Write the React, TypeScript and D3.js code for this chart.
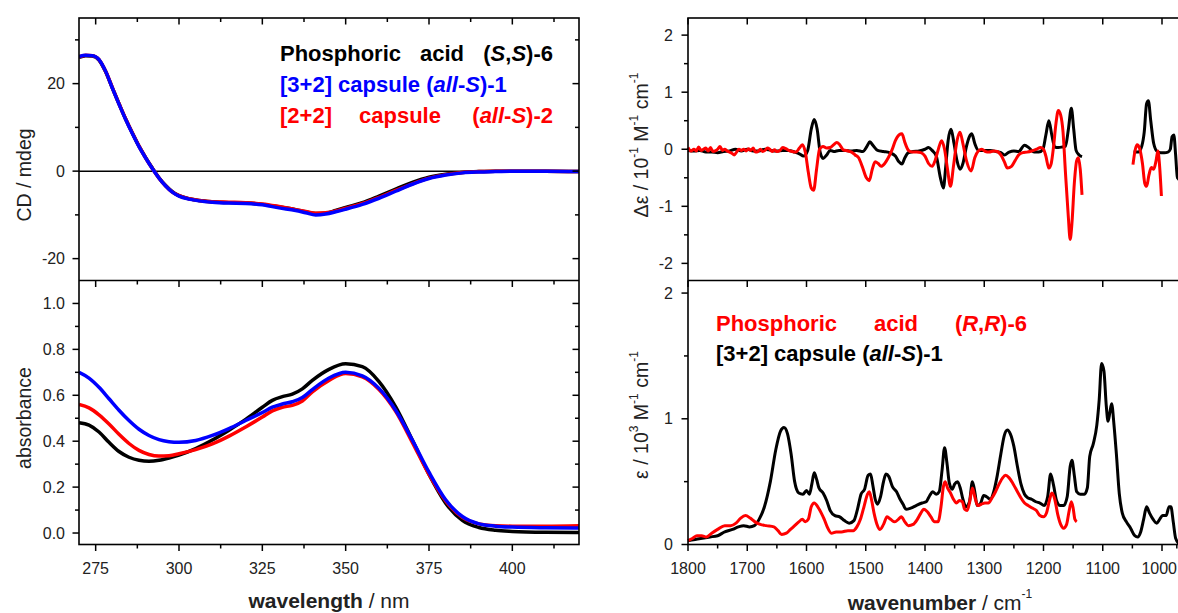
import React from "react";
import * as d3 from "d3";

// ---------- DATA ----------
// Left panels (UV/CD), wavelength in nm
const cdWl = [270,272,274,276,278,280,282,284,286,288,290,292,294,296,298,300,303,306,310,315,320,325,330,335,338,341,344,347,350,355,360,365,370,375,380,385,390,395,400,410,420];
const cdBlack = [26.0,26.4,26.3,25.4,22.7,19.0,15.4,11.9,8.7,5.7,3.1,0.7,-1.5,-3.3,-4.7,-5.6,-6.3,-6.7,-7.0,-7.2,-7.3,-7.6,-8.2,-8.8,-9.3,-9.7,-9.6,-9.0,-8.3,-7.2,-5.7,-4.1,-2.6,-1.4,-0.7,-0.3,-0.1,0.0,0.0,0.0,-0.1];
const cdRed = [26.1,26.5,26.4,25.5,22.8,19.1,15.4,11.9,8.7,5.7,3.0,0.6,-1.6,-3.4,-4.8,-5.6,-6.3,-6.7,-7.0,-7.1,-7.2,-7.5,-8.1,-8.8,-9.2,-9.6,-9.5,-9.1,-8.5,-7.4,-6.0,-4.4,-2.9,-1.6,-0.8,-0.3,-0.1,0.0,0.0,0.0,-0.1];
const cdBlue = [26.2,26.5,26.4,25.5,22.8,19.0,15.3,11.8,8.6,5.6,3.0,0.6,-1.6,-3.4,-4.8,-5.7,-6.4,-6.8,-7.1,-7.3,-7.4,-7.7,-8.4,-9.0,-9.5,-10.0,-9.8,-9.3,-8.7,-7.6,-6.2,-4.6,-3.0,-1.7,-0.9,-0.4,-0.2,-0.1,0.0,0.0,-0.1];

const absWl = [270,273,276,279,282,285,288,291,294,297,300,305,310,315,320,325,328,331,334,337,340,345,350,355,360,365,370,375,380,385,390,395,400,410,420];
const absBlack = [0.48,0.47,0.44,0.395,0.355,0.33,0.317,0.313,0.317,0.327,0.34,0.368,0.405,0.448,0.495,0.548,0.578,0.594,0.605,0.628,0.665,0.713,0.737,0.725,0.66,0.55,0.405,0.255,0.13,0.055,0.024,0.012,0.007,0.003,0.002];
const absRed = [0.56,0.545,0.515,0.475,0.43,0.39,0.36,0.342,0.335,0.337,0.345,0.363,0.388,0.422,0.462,0.505,0.532,0.548,0.556,0.575,0.615,0.665,0.695,0.68,0.625,0.53,0.395,0.255,0.14,0.068,0.04,0.032,0.03,0.03,0.032];
const absBlue = [0.70,0.675,0.635,0.585,0.535,0.49,0.452,0.425,0.407,0.398,0.395,0.403,0.425,0.455,0.49,0.525,0.548,0.562,0.572,0.59,0.625,0.675,0.70,0.685,0.63,0.535,0.405,0.265,0.145,0.072,0.04,0.03,0.026,0.023,0.022];

// Right top panel (VCD), [wavenumber, Δε / 10^-1]
const vcdBlackA = [[1800,-0.02],[1790,-0.03],[1780,-0.02],[1770,-0.05],[1760,-0.05],[1750,-0.06],[1740,-0.04],[1730,-0.03],[1720,0.0],[1710,-0.03],[1700,0.0],[1690,-0.03],[1680,-0.03],[1670,0.0],[1660,-0.02],[1650,-0.03],[1640,-0.02],[1630,-0.02],[1620,-0.05],[1612,-0.08],[1605,-0.12],[1598,-0.02],[1592,0.35],[1587,0.52],[1582,0.35],[1577,-0.05],[1572,-0.16],[1566,-0.1],[1560,-0.02],[1554,-0.04],[1545,-0.02],[1535,-0.02],[1525,-0.03],[1515,-0.02],[1505,-0.04],[1498,0.05],[1493,0.13],[1488,0.07],[1480,-0.02],[1470,-0.04],[1460,-0.06],[1450,-0.12],[1444,-0.22],[1439,-0.26],[1434,-0.15],[1428,-0.06],[1420,-0.04],[1410,-0.03],[1400,0.0],[1394,0.03],[1388,-0.02],[1381,-0.12],[1374,-0.5],[1369,-0.68],[1365,-0.3],[1361,0.15],[1356,0.35],[1351,0.1],[1346,-0.2],[1341,-0.35],[1336,-0.25],[1330,0.05],[1325,0.22],[1321,0.27],[1316,0.1],[1310,-0.02],[1300,-0.02],[1290,-0.02],[1280,-0.04],[1272,-0.06],[1266,-0.1],[1258,-0.05],[1250,-0.03],[1242,-0.04],[1232,0.07],[1224,0.02],[1216,-0.05],[1208,-0.05],[1201,0.0],[1196,0.25],[1191,0.5],[1186,0.25],[1181,0.04],[1175,0.03],[1168,0.04],[1163,0.05],[1158,0.35],[1153,0.72],[1149,0.35],[1145,-0.02],[1140,-0.1],[1135,-0.13]];
const vcdBlackB = [[1048,-0.05],[1040,-0.05],[1034,0.06],[1030,0.3],[1026,0.8],[1023,0.85],[1019,0.5],[1014,0.1],[1008,-0.04],[1002,-0.06],[996,-0.06],[990,-0.05],[986,0.0],[983,0.22],[980,0.25],[977,-0.1],[974,-0.5],[968,-0.55]];
const vcdRedA = [[1800,0.03],[1795,-0.03],[1790,0.0],[1786,-0.03],[1782,0.04],[1778,-0.02],[1774,0.0],[1770,0.02],[1766,-0.03],[1762,0.03],[1758,-0.04],[1754,-0.03],[1750,0.0],[1746,0.05],[1742,-0.02],[1738,0.0],[1734,-0.03],[1730,-0.05],[1726,-0.07],[1722,-0.1],[1718,-0.05],[1714,0.0],[1710,-0.02],[1706,0.0],[1702,-0.03],[1698,0.01],[1694,-0.02],[1690,0.02],[1686,-0.05],[1682,-0.04],[1678,0.0],[1674,-0.04],[1670,-0.02],[1666,0.02],[1662,0.0],[1658,-0.04],[1654,-0.01],[1650,-0.04],[1645,-0.02],[1640,0.03],[1635,0.01],[1630,-0.02],[1624,-0.04],[1618,-0.05],[1612,0.02],[1607,0.08],[1602,-0.05],[1597,-0.4],[1592,-0.68],[1588,-0.72],[1583,-0.35],[1578,0.0],[1572,0.05],[1566,0.02],[1560,0.03],[1554,0.08],[1549,0.12],[1544,0.08],[1538,-0.01],[1530,-0.03],[1524,-0.05],[1518,-0.1],[1512,-0.15],[1506,-0.3],[1499,-0.5],[1494,-0.55],[1489,-0.35],[1484,-0.22],[1479,-0.25],[1474,-0.3],[1468,-0.25],[1462,-0.15],[1456,-0.02],[1450,0.15],[1444,0.25],[1439,0.27],[1434,0.12],[1428,-0.02],[1422,-0.05],[1414,-0.05],[1407,-0.06],[1400,-0.12],[1394,-0.25],[1388,-0.3],[1383,-0.2],[1378,-0.02],[1372,0.15],[1367,0.0],[1362,-0.35],[1357,-0.65],[1352,-0.3],[1346,0.15],[1341,0.3],[1336,0.1],[1330,-0.2],[1322,-0.38],[1316,-0.15],[1310,-0.03],[1304,0.0],[1298,-0.04],[1292,-0.05],[1284,-0.03],[1278,-0.04],[1272,-0.1],[1266,-0.22],[1261,-0.33],[1254,-0.3],[1248,-0.2],[1242,-0.1],[1235,-0.06],[1228,-0.05],[1220,-0.03],[1212,0.0],[1205,0.03],[1200,0.0],[1196,-0.12],[1191,-0.33],[1187,-0.25],[1183,0.05],[1179,0.45],[1175,0.68],[1171,0.6],[1167,0.3],[1163,-0.4],[1158,-1.2],[1155,-1.58],[1152,-1.3],[1148,-0.6],[1144,-0.2],[1141,-0.15],[1138,-0.35],[1135,-0.8]];
const vcdRedB = [[1049,-0.27],[1045,0.0],[1042,0.08],[1038,0.02],[1033,-0.25],[1029,-0.6],[1026,-0.65],[1022,-0.45],[1018,-0.32],[1014,-0.35],[1010,-0.2],[1007,-0.03],[1004,-0.3],[1001,-0.82]];

// Right bottom panel (IR), [wavenumber, ε / 10^3]
const irBlack = [[1800,0.03],[1788,0.04],[1776,0.05],[1763,0.06],[1750,0.07],[1738,0.1],[1725,0.12],[1715,0.14],[1706,0.15],[1696,0.14],[1688,0.15],[1680,0.2],[1671,0.3],[1661,0.5],[1652,0.75],[1644,0.9],[1638,0.93],[1632,0.88],[1626,0.72],[1620,0.5],[1613,0.41],[1606,0.4],[1600,0.43],[1595,0.4],[1591,0.48],[1587,0.57],[1583,0.52],[1579,0.45],[1572,0.41],[1566,0.35],[1560,0.27],[1552,0.23],[1544,0.22],[1536,0.19],[1528,0.17],[1520,0.19],[1514,0.28],[1508,0.4],[1502,0.44],[1496,0.55],[1492,0.56],[1488,0.47],[1484,0.36],[1480,0.32],[1475,0.38],[1470,0.5],[1466,0.56],[1461,0.54],[1455,0.46],[1448,0.42],[1442,0.36],[1437,0.32],[1432,0.28],[1424,0.29],[1415,0.31],[1405,0.33],[1398,0.34],[1392,0.39],[1387,0.42],[1381,0.4],[1376,0.42],[1371,0.6],[1367,0.77],[1363,0.65],[1359,0.49],[1354,0.44],[1350,0.48],[1345,0.5],[1340,0.44],[1336,0.36],[1331,0.3],[1325,0.34],[1320,0.5],[1316,0.42],[1312,0.31],[1306,0.33],[1301,0.39],[1296,0.38],[1290,0.36],[1284,0.42],[1278,0.55],[1272,0.72],[1266,0.87],[1261,0.91],[1256,0.88],[1250,0.78],[1244,0.62],[1238,0.48],[1232,0.4],[1226,0.37],[1220,0.36],[1213,0.34],[1206,0.33],[1199,0.31],[1193,0.38],[1188,0.56],[1183,0.47],[1178,0.35],[1172,0.31],[1166,0.31],[1160,0.38],[1155,0.62],[1152,0.67],[1148,0.55],[1144,0.42],[1138,0.4],[1131,0.4],[1126,0.45],[1122,0.7],[1116,0.8],[1110,0.95],[1106,1.15],[1102,1.44],[1098,1.38],[1094,1.1],[1091,0.98],[1088,1.05],[1085,1.12],[1081,0.95],[1077,0.72],[1072,0.4],[1067,0.25],[1060,0.18],[1053,0.13],[1046,0.07],[1041,0.06],[1036,0.1],[1031,0.2],[1026,0.3],[1021,0.25],[1015,0.2],[1009,0.17],[1004,0.2],[999,0.23],[993,0.23],[988,0.3],[985,0.3],[981,0.18],[977,0.05],[970,0.0]];
const irRed = [[1800,0.03],[1792,0.05],[1785,0.07],[1777,0.07],[1769,0.06],[1760,0.09],[1750,0.12],[1738,0.15],[1728,0.15],[1719,0.17],[1711,0.21],[1703,0.23],[1695,0.21],[1687,0.18],[1678,0.16],[1668,0.15],[1655,0.14],[1648,0.11],[1642,0.08],[1634,0.09],[1627,0.12],[1620,0.15],[1613,0.18],[1607,0.2],[1602,0.18],[1597,0.2],[1592,0.3],[1587,0.33],[1581,0.3],[1575,0.25],[1570,0.2],[1565,0.14],[1558,0.09],[1550,0.1],[1541,0.1],[1530,0.11],[1521,0.11],[1515,0.14],[1509,0.2],[1503,0.3],[1497,0.4],[1494,0.42],[1490,0.35],[1486,0.25],[1481,0.16],[1476,0.12],[1470,0.16],[1464,0.22],[1458,0.2],[1451,0.18],[1445,0.2],[1440,0.22],[1434,0.18],[1428,0.15],[1420,0.16],[1413,0.2],[1407,0.25],[1402,0.28],[1396,0.26],[1390,0.22],[1384,0.18],[1378,0.18],[1373,0.3],[1369,0.46],[1366,0.5],[1362,0.45],[1357,0.41],[1352,0.36],[1347,0.33],[1342,0.35],[1337,0.34],[1333,0.28],[1329,0.27],[1325,0.33],[1320,0.45],[1316,0.38],[1311,0.31],[1305,0.32],[1299,0.33],[1293,0.33],[1287,0.37],[1281,0.42],[1275,0.48],[1269,0.53],[1264,0.55],[1258,0.53],[1251,0.48],[1244,0.42],[1238,0.37],[1232,0.33],[1226,0.31],[1219,0.29],[1212,0.27],[1206,0.23],[1200,0.22],[1195,0.25],[1190,0.35],[1186,0.41],[1181,0.36],[1176,0.24],[1171,0.16],[1166,0.13],[1161,0.16],[1157,0.26],[1153,0.34],[1150,0.29],[1147,0.2],[1144,0.18]];

// Tick labels
const wlMajor = [275, 300, 325, 350, 375, 400];
const wlMinor = [287.5, 312.5, 337.5, 362.5, 387.5, 412.5];
const cdMajor = [-20, 0, 20];
const cdMinor = [-10, 10, 30];
const absMajor = [0, 0.2, 0.4, 0.6, 0.8, 1.0];
const absMinor = [0.1, 0.3, 0.5, 0.7, 0.9];
const wnMajor = [1800, 1700, 1600, 1500, 1400, 1300, 1200, 1100, 1000];
const wnMinor = [1750, 1650, 1550, 1450, 1350, 1250, 1150, 1050, 975];
const vcdMajor = [-2, -1, 0, 1, 2];
const vcdMinor = [-1.5, -0.5, 0.5, 1.5];
const irMajor = [0, 1, 2];
const irMinor = [0.5, 1.5];

// ---------- LAYOUT ----------
const W = 1178;
const H = 613;
const TOP = 18;
const MID = 280.5;
const BOT = 544.5;
const LX0 = 79;
const LX1 = 579;
const RX0 = 688;
const MAJ = 6.5;
const MIN = 4;
const FONT = "Liberation Sans, Arial, Helvetica, sans-serif";
const TICKCOL = "#222";
const RED = "#ff0000";
const BLUE = "#0000ff";

const xWl = d3.scaleLinear().domain([270, 420]).range([LX0, LX1]);
const yCd = d3.scaleLinear().domain([-25, 35]).range([MID, TOP]);
const yAbs = d3.scaleLinear().domain([-0.05, 1.1]).range([BOT, MID]);
const xWn = d3.scaleLinear().domain([1800, 950]).range([RX0, RX0 + 850 * 0.5925]);
const RX1 = xWn(950);
const yVcd = d3.scaleLinear().domain([-2.3, 2.3]).range([MID, TOP]);
const yIr = d3.scaleLinear().domain([0, 2.1]).range([BOT, MID]);

type Sc = d3.ScaleLinear<number, number>;

function linePath(xs: number[], ys: number[], sx: Sc, sy: Sc) {
  const pts = xs.map((x, i) => [x, ys[i]] as [number, number]);
  return d3
    .line<[number, number]>()
    .x((d) => sx(d[0]))
    .y((d) => sy(d[1]))
    .curve(d3.curveMonotoneX)(pts) as string;
}
function pairPath(pts: number[][], sx: Sc, sy: Sc) {
  return d3
    .line<number[]>()
    .x((d) => sx(d[0]))
    .y((d) => sy(d[1]))
    .curve(d3.curveMonotoneX)(pts) as string;
}

function HTicks({ sc, vals, y, len, dir }: { sc: Sc; vals: number[]; y: number; len: number; dir: number }) {
  return (
    <g>
      {vals.map((v) => (
        <line key={v} x1={sc(v)} x2={sc(v)} y1={y} y2={y + dir * len} stroke="#000" strokeWidth={1.5} />
      ))}
    </g>
  );
}
function VTicks({ sc, vals, x, len, dir }: { sc: Sc; vals: number[]; x: number; len: number; dir: number }) {
  return (
    <g>
      {vals.map((v) => (
        <line key={v} y1={sc(v)} y2={sc(v)} x1={x} x2={x + dir * len} stroke="#000" strokeWidth={1.5} />
      ))}
    </g>
  );
}
function YLabels({ sc, vals, x, fmt }: { sc: Sc; vals: number[]; x: number; fmt: (v: number) => string }) {
  return (
    <g>
      {vals.map((v) => (
        <text key={v} x={x} y={sc(v)} textAnchor="end" dominantBaseline="central" fontSize={16} fill={TICKCOL} fontFamily={FONT}>
          {fmt(v)}
        </text>
      ))}
    </g>
  );
}
function XLabels({ sc, vals, y }: { sc: Sc; vals: number[]; y: number }) {
  return (
    <g>
      {vals.map((v) => {
        const label = String(v);
        const half = label.length * 4.45;
        const cx = sc(v);
        const atEdge = cx + half > W - 1;
        return (
          <text
            key={v}
            x={atEdge ? W - 1 : cx}
            y={y}
            textAnchor={atEdge ? "end" : "middle"}
            dominantBaseline="central"
            fontSize={16}
            fill={TICKCOL}
            fontFamily={FONT}
          >
            {label}
          </text>
        );
      })}
    </g>
  );
}

export default function App() {
  const legendFont = 22;
  const ytitle = 19.5;
  const xtitle = 21;
  return (
    <svg
      width={W}
      height={H}
      viewBox={`0 0 ${W} ${H}`}
      style={{ position: "absolute", left: 0, top: 0, background: "#fff" }}
      fontFamily={FONT}
    >
      <rect x={0} y={0} width={W} height={H} fill="#fff" />
      <defs>
        <clipPath id="clipL1"><rect x={LX0} y={TOP} width={LX1 - LX0} height={MID - TOP} /></clipPath>
        <clipPath id="clipL2"><rect x={LX0} y={MID} width={LX1 - LX0} height={BOT - MID} /></clipPath>
      </defs>

      {/* ===== LEFT TOP: CD ===== */}
      <line x1={LX0} x2={LX1} y1={yCd(0)} y2={yCd(0)} stroke="#000" strokeWidth={1.5} />
      <g clipPath="url(#clipL1)" fill="none" strokeWidth={3.5} strokeLinejoin="round">
        <path d={linePath(cdWl, cdBlack, xWl, yCd)} stroke="#000" />
        <path d={linePath(cdWl, cdRed, xWl, yCd)} stroke={RED} />
        <path d={linePath(cdWl, cdBlue, xWl, yCd)} stroke={BLUE} />
      </g>
      <HTicks sc={xWl} vals={wlMajor} y={TOP} len={MAJ} dir={1} />
      <HTicks sc={xWl} vals={wlMinor} y={TOP} len={MIN} dir={1} />
      <VTicks sc={yCd} vals={cdMajor} x={LX0} len={MAJ} dir={-1} />
      <VTicks sc={yCd} vals={cdMinor} x={LX0} len={MIN} dir={-1} />
      <VTicks sc={yCd} vals={cdMajor} x={LX1} len={MAJ} dir={-1} />
      <VTicks sc={yCd} vals={cdMinor} x={LX1} len={MIN} dir={-1} />
      <YLabels sc={yCd} vals={cdMajor} x={LX0 - 14} fmt={(v) => String(v)} />
      <text transform={`translate(24,175) rotate(-90)`} textAnchor="middle" dominantBaseline="central" fontSize={ytitle} fill={TICKCOL}>
        CD / mdeg
      </text>

      {/* legend left */}
      <g fontSize={legendFont} fontWeight="bold" dominantBaseline="central">
        <text x={280} y={53} fill="#000">Phosphoric</text>
        <text x={420} y={53} fill="#000">acid</text>
        <text x={553} y={53} fill="#000" textAnchor="end">
          (<tspan fontStyle="italic">S</tspan>,<tspan fontStyle="italic">S</tspan>)-6
        </text>
        <text x={280} y={84} fill={BLUE}>
          [3+2] capsule (<tspan fontStyle="italic">all</tspan>-<tspan fontStyle="italic">S</tspan>)-1
        </text>
        <text x={280} y={115} fill={RED}>[2+2]</text>
        <text x={359} y={115} fill={RED}>capsule</text>
        <text x={553} y={115} fill={RED} textAnchor="end">
          (<tspan fontStyle="italic">all</tspan>-<tspan fontStyle="italic">S</tspan>)-2
        </text>
      </g>

      {/* ===== LEFT BOTTOM: absorbance ===== */}
      <g clipPath="url(#clipL2)" fill="none" strokeWidth={3.5} strokeLinejoin="round">
        <path d={linePath(absWl, absBlack, xWl, yAbs)} stroke="#000" />
        <path d={linePath(absWl, absRed, xWl, yAbs)} stroke={RED} />
        <path d={linePath(absWl, absBlue, xWl, yAbs)} stroke={BLUE} />
      </g>
      <HTicks sc={xWl} vals={wlMajor} y={MID} len={MAJ} dir={1} />
      <HTicks sc={xWl} vals={wlMinor} y={MID} len={MIN} dir={1} />
      <HTicks sc={xWl} vals={wlMajor} y={BOT} len={MAJ} dir={1} />
      <HTicks sc={xWl} vals={wlMinor} y={BOT} len={MIN} dir={1} />
      <VTicks sc={yAbs} vals={absMajor} x={LX0} len={MAJ} dir={-1} />
      <VTicks sc={yAbs} vals={absMinor} x={LX0} len={MIN} dir={-1} />
      <VTicks sc={yAbs} vals={absMajor} x={LX1} len={MAJ} dir={-1} />
      <VTicks sc={yAbs} vals={absMinor} x={LX1} len={MIN} dir={-1} />
      <YLabels sc={yAbs} vals={absMajor} x={LX0 - 14} fmt={(v) => v.toFixed(1)} />
      <XLabels sc={xWl} vals={wlMajor} y={568} />
      <text transform={`translate(24,418) rotate(-90)`} textAnchor="middle" dominantBaseline="central" fontSize={ytitle} fill={TICKCOL}>
        absorbance
      </text>
      <text x={(LX0 + LX1) / 2} y={600} textAnchor="middle" dominantBaseline="central" fontSize={xtitle} fill={TICKCOL}>
        <tspan fontWeight="bold">wavelength</tspan> / nm
      </text>

      {/* left frames */}
      <rect x={LX0} y={TOP} width={LX1 - LX0} height={BOT - TOP} fill="none" stroke="#000" strokeWidth={1.6} />
      <line x1={LX0} x2={LX1} y1={MID} y2={MID} stroke="#000" strokeWidth={1.6} />

      {/* ===== RIGHT TOP: VCD ===== */}
      <g fill="none" strokeWidth={3} strokeLinejoin="round">
        <path d={pairPath(vcdBlackA, xWn, yVcd)} stroke="#000" />
        <path d={pairPath(vcdBlackB, xWn, yVcd)} stroke="#000" />
        <path d={pairPath(vcdRedA, xWn, yVcd)} stroke={RED} />
        <path d={pairPath(vcdRedB, xWn, yVcd)} stroke={RED} />
      </g>
      <HTicks sc={xWn} vals={wnMajor} y={TOP} len={MAJ} dir={1} />
      <VTicks sc={yVcd} vals={vcdMajor} x={RX0} len={MAJ} dir={-1} />
      <VTicks sc={yVcd} vals={vcdMinor} x={RX0} len={MIN} dir={-1} />
      <YLabels sc={yVcd} vals={vcdMajor} x={RX0 - 15} fmt={(v) => String(v)} />
      <text transform={`translate(641,145) rotate(-90)`} textAnchor="middle" dominantBaseline="central" fontSize={ytitle} fill={TICKCOL}>
        Δε / 10<tspan fontSize={12} dy={-7}>-1</tspan><tspan dy={7}> M</tspan><tspan fontSize={12} dy={-7}>-1</tspan><tspan dy={7}> cm</tspan><tspan fontSize={12} dy={-7}>-1</tspan>
      </text>

      {/* ===== RIGHT BOTTOM: IR ===== */}
      <g fill="none" strokeWidth={3} strokeLinejoin="round">
        <path d={pairPath(irBlack, xWn, yIr)} stroke="#000" />
        <path d={pairPath(irRed, xWn, yIr)} stroke={RED} />
      </g>
      <HTicks sc={xWn} vals={wnMajor} y={MID} len={MAJ} dir={1} />
      <HTicks sc={xWn} vals={wnMajor} y={BOT} len={MAJ} dir={1} />
      <HTicks sc={xWn} vals={wnMinor} y={BOT} len={MIN} dir={1} />
      <VTicks sc={yIr} vals={irMajor} x={RX0} len={MAJ} dir={-1} />
      <VTicks sc={yIr} vals={irMinor} x={RX0} len={MIN} dir={-1} />
      <YLabels sc={yIr} vals={irMajor} x={RX0 - 15} fmt={(v) => String(v)} />
      <XLabels sc={xWn} vals={wnMajor} y={568} />
      <text transform={`translate(641,415) rotate(-90)`} textAnchor="middle" dominantBaseline="central" fontSize={ytitle} fill={TICKCOL}>
        ε / 10<tspan fontSize={12} dy={-7}>3</tspan><tspan dy={7}> M</tspan><tspan fontSize={12} dy={-7}>-1</tspan><tspan dy={7}> cm</tspan><tspan fontSize={12} dy={-7}>-1</tspan>
      </text>
      <text x={940} y={602} textAnchor="middle" dominantBaseline="central" fontSize={xtitle} fill={TICKCOL}>
        <tspan fontWeight="bold">wavenumber</tspan> / cm<tspan fontSize={12} dy={-8}>-1</tspan>
      </text>

      {/* legend right */}
      <g fontSize={legendFont} fontWeight="bold" dominantBaseline="central">
        <text x={716} y={323} fill={RED}>Phosphoric</text>
        <text x={874} y={323} fill={RED}>acid</text>
        <text x={1027} y={323} fill={RED} textAnchor="end">
          (<tspan fontStyle="italic">R</tspan>,<tspan fontStyle="italic">R</tspan>)-6
        </text>
        <text x={716} y={353} fill="#000">
          [3+2] capsule (<tspan fontStyle="italic">all</tspan>-<tspan fontStyle="italic">S</tspan>)-1
        </text>
      </g>

      {/* right frames */}
      <rect x={RX0} y={TOP} width={RX1 - RX0} height={BOT - TOP} fill="none" stroke="#000" strokeWidth={1.6} />
      <line x1={RX0} x2={RX1} y1={MID} y2={MID} stroke="#000" strokeWidth={1.6} />
    </svg>
  );
}
